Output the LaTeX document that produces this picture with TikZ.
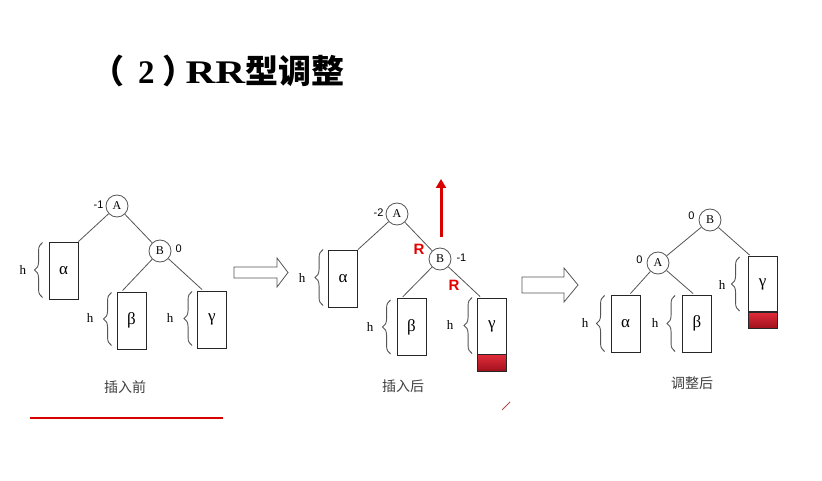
\documentclass[tikz,border=0pt]{standalone}
\usepackage{fontspec}
\setmainfont{Liberation Serif}
\newfontfamily\cjk{Noto Sans CJK SC}
\newfontfamily\arialf{Liberation Sans}
\usetikzlibrary{decorations.pathreplacing,calc,arrows.meta}
\definecolor{lin}{HTML}{555555}
\definecolor{fillred}{HTML}{E02C3A}
\definecolor{darkred}{HTML}{9E0F1C}
\begin{document}
\begin{tikzpicture}[x=1pt,y=-1pt,
  circ/.style={circle,draw=lin,fill=white,line width=0.8pt,minimum size=22pt,inner sep=0pt,font=\fontsize{12}{12}\selectfont},
  subtree/.style={draw=black!85,line width=0.9pt,minimum width=29pt,minimum height=57pt,inner sep=0pt,font=\fontsize{17}{17}\selectfont},
  redpart/.style={draw=black!85,line width=0.9pt,minimum width=29pt,minimum height=17pt,inner sep=0pt,top color=fillred,bottom color=darkred},
  edge/.style={draw=lin,line width=0.8pt},
  br/.style={decorate,decoration={brace,amplitude=8pt},draw=lin,line width=0.9pt},
  hlab/.style={font=\fontsize{13}{13}\selectfont},
  bal/.style={font=\arialf\fontsize{11}{11}\selectfont},
  rlab/.style={font=\arialf\bfseries\fontsize{15}{15}\selectfont,text=red!90!black},
  caplab/.style={font=\cjk\fontsize{14}{14}\selectfont,text=black!75},
  hollow/.style={draw=lin,line width=0.8pt,fill=white}
]
\useasboundingbox (0,0) rectangle (822,481);
\fill[white] (0,0) rectangle (822,481);

% title
\node[anchor=west,inner sep=0pt] (title) at (91,71)
  {\fontsize{33}{33}\selectfont\bfseries{\cjk （}\hspace{14pt}2\hspace{8pt}\makebox[20pt][l]{\cjk ）}\hspace{3pt}\scalebox{1.25}[1]{RR}{\cjk 型调整}};

% ---------- diagram 1 ----------
\node[circ] (A1) at (117,206) {A};
\node[circ] (B1) at (160,251) {B};
\node[bal,anchor=east] (bA1) at (107,205) {-1};
\node[bal,anchor=west] (bB1) at (172,249) {0};
\node[subtree] (al1) at (63.5,270.5) {α};
\node[subtree] (be1) at (131.5,320.5) {β};
\node[subtree] (ga1) at (212,319.5) {γ};
\draw[edge] (A1) -- (al1.north east);
\draw[edge] (A1) -- (B1);
\draw[edge] (B1) -- ($(be1.north west)+(6,-1)$);
\draw[edge] (B1) -- ($(ga1.north west)+(5,-1)$);
\draw[br] ($(al1.south west)+(-6,-2)$) -- ($(al1.north west)+(-6,1)$);
\draw[br] ($(be1.south west)+(-5,-4)$) -- ($(be1.north west)+(-5,1)$);
\draw[br] ($(ga1.south west)+(-5,-3)$) -- ($(ga1.north west)+(-5,1)$);
\node[hlab] (h11) at (23,270) {h};
\node[hlab] (h12) at (90,318) {h};
\node[hlab] (h13) at (170,318) {h};
\node[caplab] (c1) at (125,387) {插入前};
\coordinate (u1) at (30,418);
\coordinate (u2) at (223,418);
\draw[red!85!black,line width=2.5pt] (u1) -- (u2);

% hollow arrow 1
\draw[hollow] (234,267) -- (277,267) -- (277,258) -- (288,272.5) -- (277,287) -- (277,278) -- (234,278) -- cycle;

% ---------- diagram 2 ----------
\node[circ] (A2) at (397,214) {A};
\node[circ] (B2) at (440,259) {B};
\node[bal,anchor=east] (bA2) at (387,213) {-2};
\node[bal,anchor=west] (bB2) at (453,258) {-1};
\node[subtree] (al2) at (343,278.5) {α};
\node[subtree] (be2) at (411.5,327) {β};
\node[subtree,minimum height=56pt] (ga2) at (492,326) {γ};
\node[redpart,anchor=north] (gr2) at (ga2.south) {};
\draw[edge] (A2) -- (al2.north east);
\draw[edge] (A2) -- (B2);
\draw[edge] (B2) -- ($(be2.north west)+(6,-1)$);
\draw[edge] (B2) -- ($(ga2.north west)+(3,-1)$);
\draw[br] ($(al2.south west)+(-5,-2)$) -- ($(al2.north west)+(-5,0)$);
\draw[br] ($(be2.south west)+(-6,-2)$) -- ($(be2.north west)+(-6,2)$);
\draw[br] ($(ga2.south west)+(-5,-1)$) -- ($(ga2.north west)+(-5,0)$);
\node[hlab] (h21) at (302,278) {h};
\node[hlab] (h22) at (370,327) {h};
\node[hlab] (h23) at (450,325) {h};
\node[rlab] (R1) at (419,249) {R};
\node[rlab] (R2) at (454,285) {R};
\coordinate (rtop) at (441,179);
\draw[red!85!black,line width=3pt,-{Triangle[length=9pt,width=10pt]}] ($(B2.north)+(1,-11)$) -- (rtop);
\node[caplab] (c2) at (403,386) {插入后};
\coordinate (p1) at (502,410);
\coordinate (p2) at (510,402);
\draw[red!40!gray,line width=1pt] (p1) -- (p2);

% hollow arrow 2
\draw[hollow] (522,277) -- (564,277) -- (564,268) -- (578,285) -- (564,302) -- (564,293) -- (522,293) -- cycle;

% ---------- diagram 3 ----------
\node[circ] (B3) at (710,220) {B};
\node[circ] (A3) at (658,263) {A};
\node[bal,anchor=east] (bB3) at (698,216) {0};
\node[bal,anchor=east] (bA3) at (646,260) {0};
\node[subtree] (al3) at (625.5,323.5) {α};
\node[subtree] (be3) at (697,323.5) {β};
\node[subtree,minimum height=55pt] (ga3) at (762.5,284) {γ};
\node[redpart,anchor=north,minimum height=16pt] (gr3) at (ga3.south) {};
\draw[edge] (B3) -- (A3);
\draw[edge] (B3) -- ($(ga3.north west)+(2,-1)$);
\draw[edge] (A3) -- ($(al3.north east)+(-10,-1)$);
\draw[edge] (A3) -- ($(be3.north west)+(11,-1)$);
\draw[br] ($(al3.south west)+(-6,-1)$) -- ($(al3.north west)+(-6,1)$);
\draw[br] ($(be3.south west)+(-7,-1)$) -- ($(be3.north west)+(-7,1)$);
\draw[br] ($(ga3.south west)+(-8,-1)$) -- ($(ga3.north west)+(-8,1)$);
\node[hlab] (h31) at (585,323) {h};
\node[hlab] (h32) at (655,323) {h};
\node[hlab] (h33) at (722,285) {h};
\node[caplab] (c3) at (692,383) {调整后};
\end{tikzpicture}
\end{document}
